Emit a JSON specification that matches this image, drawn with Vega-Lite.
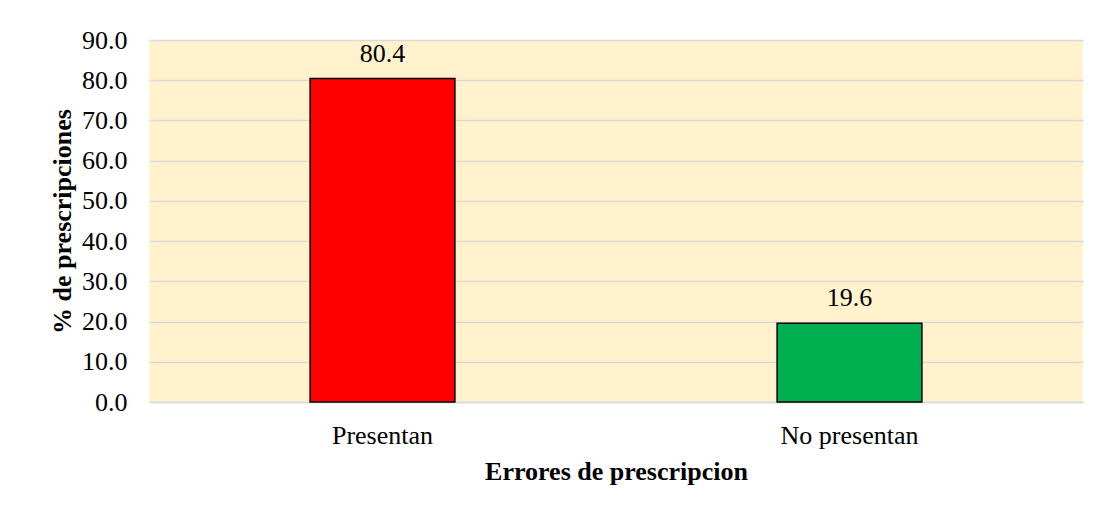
{
  "$schema": "https://vega.github.io/schema/vega-lite/v6.json",
  "width": 934,
  "height": 362,
  "autosize": {"type": "none"},
  "padding": {"left": 149, "top": 40, "right": 15, "bottom": 110},
  "background": "white",
  "config": {
    "font": "Liberation Serif",
    "view": {"fill": "#FFF2CC", "stroke": null},
    "text": {"font": "Liberation Serif"},
    "axis": {"labelFont": "Liberation Serif", "titleFont": "Liberation Serif", "labelColor": "#000000", "titleColor": "#000000"}
  },
  "data": {
    "values": [
      {"categoria": "Presentan", "porcentaje": 80.4},
      {"categoria": "No presentan", "porcentaje": 19.6}
    ]
  },
  "encoding": {
    "x": {
      "field": "categoria",
      "type": "nominal",
      "sort": ["Presentan", "No presentan"],
      "scale": {"paddingInner": 0, "paddingOuter": 0},
      "axis": {
        "title": "Errores de prescripcion",
        "titleFontSize": 26,
        "titleFontWeight": "bold",
        "titlePadding": 10,
        "labelFontSize": 26,
        "labelAngle": 0,
        "labelPadding": 20,
        "ticks": false,
        "domain": true,
        "domainColor": "#D9D9D9",
        "domainWidth": 1.5
      }
    },
    "y": {
      "field": "porcentaje",
      "type": "quantitative",
      "scale": {"domain": [0, 90], "nice": false},
      "axis": {
        "title": "% de prescripciones",
        "titleFontSize": 26,
        "titleFontWeight": "bold",
        "titlePadding": 6,
        "labelFontSize": 26,
        "labelPadding": 22,
        "format": ".1f",
        "values": [0, 10, 20, 30, 40, 50, 60, 70, 80, 90],
        "ticks": false,
        "domain": false,
        "grid": true,
        "gridColor": "#D9D9D9",
        "gridWidth": 1.5
      }
    }
  },
  "layer": [
    {
      "mark": {"type": "bar", "width": {"band": 0.31}, "stroke": "#000000", "strokeWidth": 1.5},
      "encoding": {
        "color": {
          "field": "categoria",
          "type": "nominal",
          "scale": {"domain": ["Presentan", "No presentan"], "range": ["#FF0000", "#00B050"]},
          "legend": null
        }
      }
    },
    {
      "mark": {"type": "text", "font": "Liberation Serif", "baseline": "middle", "dy": -25, "fontSize": 26, "color": "#000000"},
      "encoding": {
        "text": {"field": "porcentaje", "type": "quantitative", "format": ".1f"}
      }
    }
  ]
}
